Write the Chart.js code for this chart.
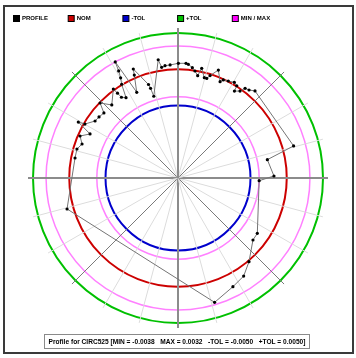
<!DOCTYPE html>
<html><head><meta charset="utf-8">
<script src="https://cdn.jsdelivr.net/npm/chart.js@4/dist/chart.umd.min.js"></script>
<style>html,body{margin:0;padding:0;background:#fff}canvas{display:block}</style>
</head><body>
<canvas id="c" width="356" height="358"></canvas>
<script>
// Profile points: angle in degrees clockwise from top, deviation from nominal (mm)
const profileAngles = [
  0.2, 4.0, 5.2, 7.4, 9.0, 10.9, 12.2, 14.7, 16.1, 17.4, 20.5, 23.6, 24.8, 27.4, 30.5, 32.5, 33.0,
  35.5, 36.8, 38.9, 41.5, 74.5, 78.4, 88.8, 91.9, 124.9, 129.6, 139.7, 146.2, 153.2, 163.6,
  254.4, 281.0, 286.0, 289.5, 293.2, 296.6, 299.3, 300.1, 304.5, 307.7, 311.3, 313.9, 317.8,
  324.0, 324.5, 325.0, 327.1, 329.0, 330.2, 331.0, 331.6, 334.3, 337.0, 337.7, 342.5, 343.0, 343.5,
  350.5, 351.6, 353.4, 356.0
];
const profileDeviations = [
  0.00082, 0.00086, 0.00075, 0.00034, -0.00006, -0.00063, 0.00048, -0.00070, -0.00070, -0.00020, 0.00090, -0.00050, -0.00010, 0.00007, 0.00031, 0.00009, -0.00071,
  -0.00027, 0.00045, 0.00060, 0.00103, 0.00155, -0.00242, -0.00176, -0.00380, -0.00166, -0.00158, 0.00014, 0.00128, 0.00180, 0.00288,
  0.00089, -0.00053, -0.00050, -0.00096, -0.00030, -0.00143, 0.00077, -0.00016, -0.00112, -0.00123, -0.00140, -0.00008, -0.00140,
  0.00017, -0.00063, -0.00140, -0.00180, 0.00009, 0.00092, 0.00188, 0.00320, -0.00188, 0.00043, 0.00125, -0.00148, -0.00206, -0.00324,
  0.00154, 0.00043, 0.00059, 0.00063
];
// Reference circles
const ringValues = [-0.0050, -0.0038, 0.0000, 0.0032, 0.0050];
const ringColors = ['#0000cc', '#ff80ff', '#cc0000', '#ff80ff', '#00c000'];
const ringWidths = [2, 1.5, 2, 1.5, 2];
const legendLabels = ['PROFILE', 'NOM', '-TOL', '+TOL', 'MIN / MAX'];
const legendColors = ['#000000', '#cc0000', '#0000cc', '#00c000', '#ff00ff'];
const captionText = 'Profile for CIRC525 [MIN = -0.0038   MAX = 0.0032   -TOL = -0.0050   +TOL = 0.0050]';
const scaleMin = -0.015, scaleMax = 0.00569;

const ANGLE_STEP = 0.1;
const N = Math.round(360 / ANGLE_STEP);
const labels = Array.from({length: N}, (_, i) => (i * ANGLE_STEP).toFixed(1));
const series = new Array(N).fill(null);
profileAngles.forEach((a, k) => { series[Math.round(a / ANGLE_STEP) % N] = profileDeviations[k]; });

const minorIdx = Math.round(15 / ANGLE_STEP), diagIdx = Math.round(45 / ANGLE_STEP), axisIdx = Math.round(90 / ANGLE_STEP);

const decor = {
  id: 'decor',
  afterDraw(chart) {
    const c = chart.ctx;
    c.save();
    // frame
    c.strokeStyle = '#3a3a3a';
    c.lineWidth = 2;
    c.strokeRect(4, 6, 349, 347);
    // legend
    c.font = 'bold 6px "Liberation Sans", Arial, sans-serif';
    c.textBaseline = 'middle';
    c.textAlign = 'left';
    legendLabels.forEach((t, i) => {
      const x = 13.5 + i * 54.7, y = 15.5;
      c.fillStyle = legendColors[i];
      c.fillRect(x, y, 6, 6);
      c.strokeStyle = '#000';
      c.lineWidth = 1;
      c.strokeRect(x, y, 6, 6);
      c.fillStyle = '#000';
      c.fillText(t, x + 8.5, y + 3.2);
    });
    // caption
    c.fillStyle = '#fff';
    c.fillRect(44.5, 334.5, 265, 14);
    c.strokeStyle = '#8a8a8a';
    c.lineWidth = 1;
    c.strokeRect(44.5, 334.5, 265, 14);
    c.fillStyle = '#000';
    c.font = 'bold 6.6px "Liberation Sans", Arial, sans-serif';
    c.textAlign = 'center';
    c.fillText(captionText, 177, 341.8);
    c.restore();
  }
};

new Chart(document.getElementById('c'), {
  type: 'radar',
  data: {
    labels,
    datasets: [{
      label: 'PROFILE',
      data: series,
      borderColor: '#747474',
      borderWidth: 1,
      pointRadius: 1.6,
      pointBackgroundColor: '#000',
      pointBorderWidth: 0,
      pointHoverRadius: 0,
      fill: false,
      spanGaps: true,
      tension: 0
    }]
  },
  options: {
    responsive: false,
    animation: false,
    events: [],
    devicePixelRatio: 1,
    layout: {padding: {left: 28, right: 28, top: 28, bottom: 30}},
    plugins: {legend: {display: false}, tooltip: {enabled: false}},
    scales: {
      r: {
        min: scaleMin,
        max: scaleMax,
        ticks: {display: false},
        pointLabels: {display: false},
        afterBuildTicks: (s) => { s.ticks = [scaleMin, ...ringValues].map(v => ({value: v})); },
        grid: {
          circular: true,
          color: (ctx) => { const k = ringValues.indexOf(ctx.tick && ctx.tick.value); return k < 0 ? 'rgba(0,0,0,0)' : ringColors[k]; },
          lineWidth: (ctx) => { const k = ringValues.indexOf(ctx.tick && ctx.tick.value); return k < 0 ? 0 : ringWidths[k]; }
        },
        angleLines: {
          color: (ctx) => {
            const i = ctx.index;
            if (i % axisIdx === 0) return '#8c8c8c';
            if (i % diagIdx === 0) return '#7a7a7a';
            if (i % minorIdx === 0) return '#dcdcdc';
            return 'rgba(0,0,0,0)';
          },
          lineWidth: (ctx) => {
            const i = ctx.index;
            if (i % axisIdx === 0) return 2;
            if (i % minorIdx === 0) return 1;
            return 0;
          }
        }
      }
    }
  },
  plugins: [decor]
});
</script>
</body></html>
